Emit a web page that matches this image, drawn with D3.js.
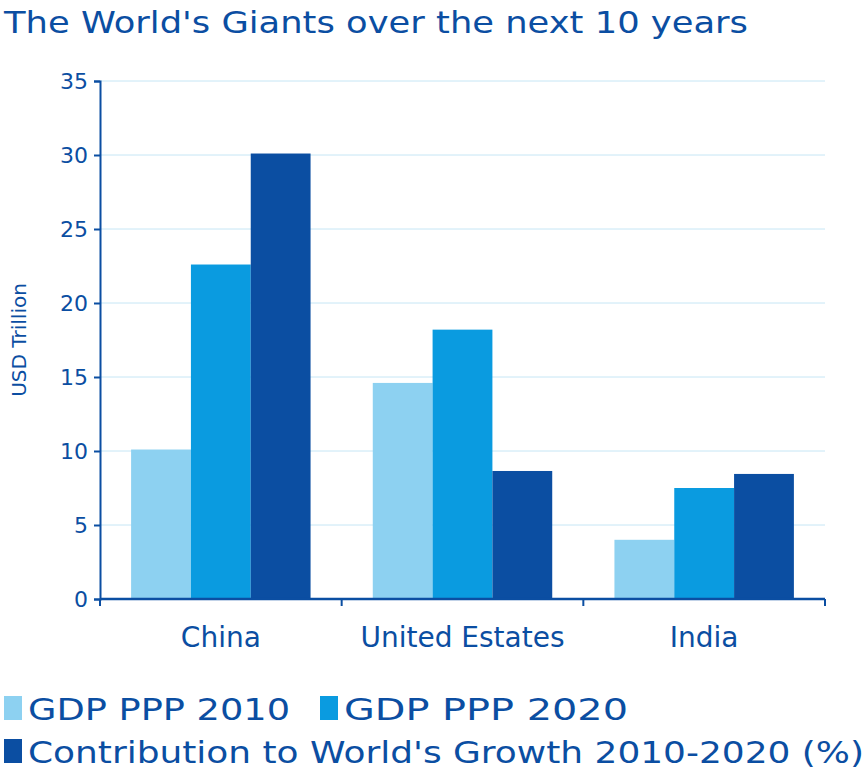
<!DOCTYPE html>
<html>
<head>
<script src="https://cdn.jsdelivr.net/npm/d3@7"></script>
<style>
  body { margin: 0; padding: 0; background: #fff; }
  text { font-family: "DejaVu Sans", "Open Sans", sans-serif; fill: #0b4ea2; }
</style>
</head>
<body>
<div id="viz"></div>
<script>
var categories = ["China", "United Estates", "India"];
var seriesNames = ["GDP PPP 2010", "GDP PPP 2020", "Contribution to World's Growth 2010-2020 (%)"];
var gdp2010 = [10.1, 14.6, 4.0];
var gdp2020 = [22.6, 18.2, 7.5];
var contribution = [30.1, 8.65, 8.45];
var yTicks = [0, 5, 10, 15, 20, 25, 30, 35];
var colors = ["#8dd1f1", "#0a9be0", "#0b4ea2"];

var W = 866, H = 772;
var mLeft = 100, mRight = 825, mTop = 81, mBottom = 599;

var svg = d3.select("#viz").append("svg").attr("width", W).attr("height", H);

var x = d3.scaleBand().domain(categories).range([mLeft, mRight]);
var xs = d3.scaleBand().domain(d3.range(3)).range([0, x.bandwidth()]).paddingOuter(0.52).paddingInner(0);
var y = d3.scaleLinear().domain([0, 35]).range([mBottom, mTop]);

// gridlines
svg.selectAll("line.grid").data(yTicks.slice(1)).enter().append("line")
  .attr("x1", mLeft).attr("x2", mRight)
  .attr("y1", function(d) { return y(d); }).attr("y2", function(d) { return y(d); })
  .attr("stroke", "#c6e6f5").attr("stroke-width", 1);

var series = [gdp2010, gdp2020, contribution];
series.forEach(function(vals, s) {
  svg.selectAll("rect.s" + s).data(vals).enter().append("rect")
    .attr("x", function(d, i) { return x(categories[i]) + xs(s); })
    .attr("width", xs.bandwidth())
    .attr("y", function(d) { return y(d); })
    .attr("height", function(d) { return mBottom - y(d); })
    .attr("fill", colors[s]);
});

// y axis
var yAxis = svg.append("g").attr("transform", "translate(" + mLeft + ",0)")
  .call(d3.axisLeft(y).tickValues(yTicks).tickSize(6).tickPadding(6));
yAxis.select(".domain").attr("stroke", "#0b4ea2").attr("stroke-width", 2);
yAxis.selectAll(".tick line").attr("stroke", "#0b4ea2").attr("stroke-width", 2);
yAxis.selectAll("text").attr("font-size", 22).attr("fill", "#0b4ea2").style("font-family", "DejaVu Sans");

// x axis
svg.append("line").attr("x1", mLeft).attr("x2", mRight).attr("y1", mBottom).attr("y2", mBottom)
  .attr("stroke", "#0b4ea2").attr("stroke-width", 2.5);
var xt = categories.map(function(c) { return x(c); }).concat([mRight]);
svg.selectAll("line.xt").data(xt).enter().append("line")
  .attr("x1", function(d) { return d; }).attr("x2", function(d) { return d; })
  .attr("y1", mBottom).attr("y2", mBottom + 7)
  .attr("stroke", "#0b4ea2").attr("stroke-width", 2);
svg.selectAll("text.xl").data(categories).enter().append("text")
  .attr("x", function(d) { return x(d) + x.bandwidth() / 2; })
  .attr("y", 647).attr("text-anchor", "middle").attr("font-size", 28)
  .text(function(d) { return d; });

// y label
svg.append("text").attr("transform", "translate(26,340) rotate(-90)")
  .attr("text-anchor", "middle").attr("font-size", 20).text("USD Trillion");

// title
svg.append("text").attr("x", 4).attr("y", 33).attr("font-size", 31)
  .attr("textLength", 744).attr("lengthAdjust", "spacingAndGlyphs")
  .text("The World's Giants over the next 10 years");

// legend
var legendPos = [[4, 720], [320, 720], [4, 763]];
var legendLen = [262, 284, 836];
seriesNames.forEach(function(n, i) {
  var g = svg.append("g").attr("transform", "translate(" + legendPos[i][0] + "," + legendPos[i][1] + ")");
  g.append("rect").attr("x", 0).attr("y", -24).attr("width", 18).attr("height", 24).attr("fill", colors[i]);
  g.append("text").attr("x", 24).attr("y", 0).attr("font-size", 31)
    .attr("textLength", legendLen[i]).attr("lengthAdjust", "spacingAndGlyphs").text(n);
});
</script>
</body>
</html>
